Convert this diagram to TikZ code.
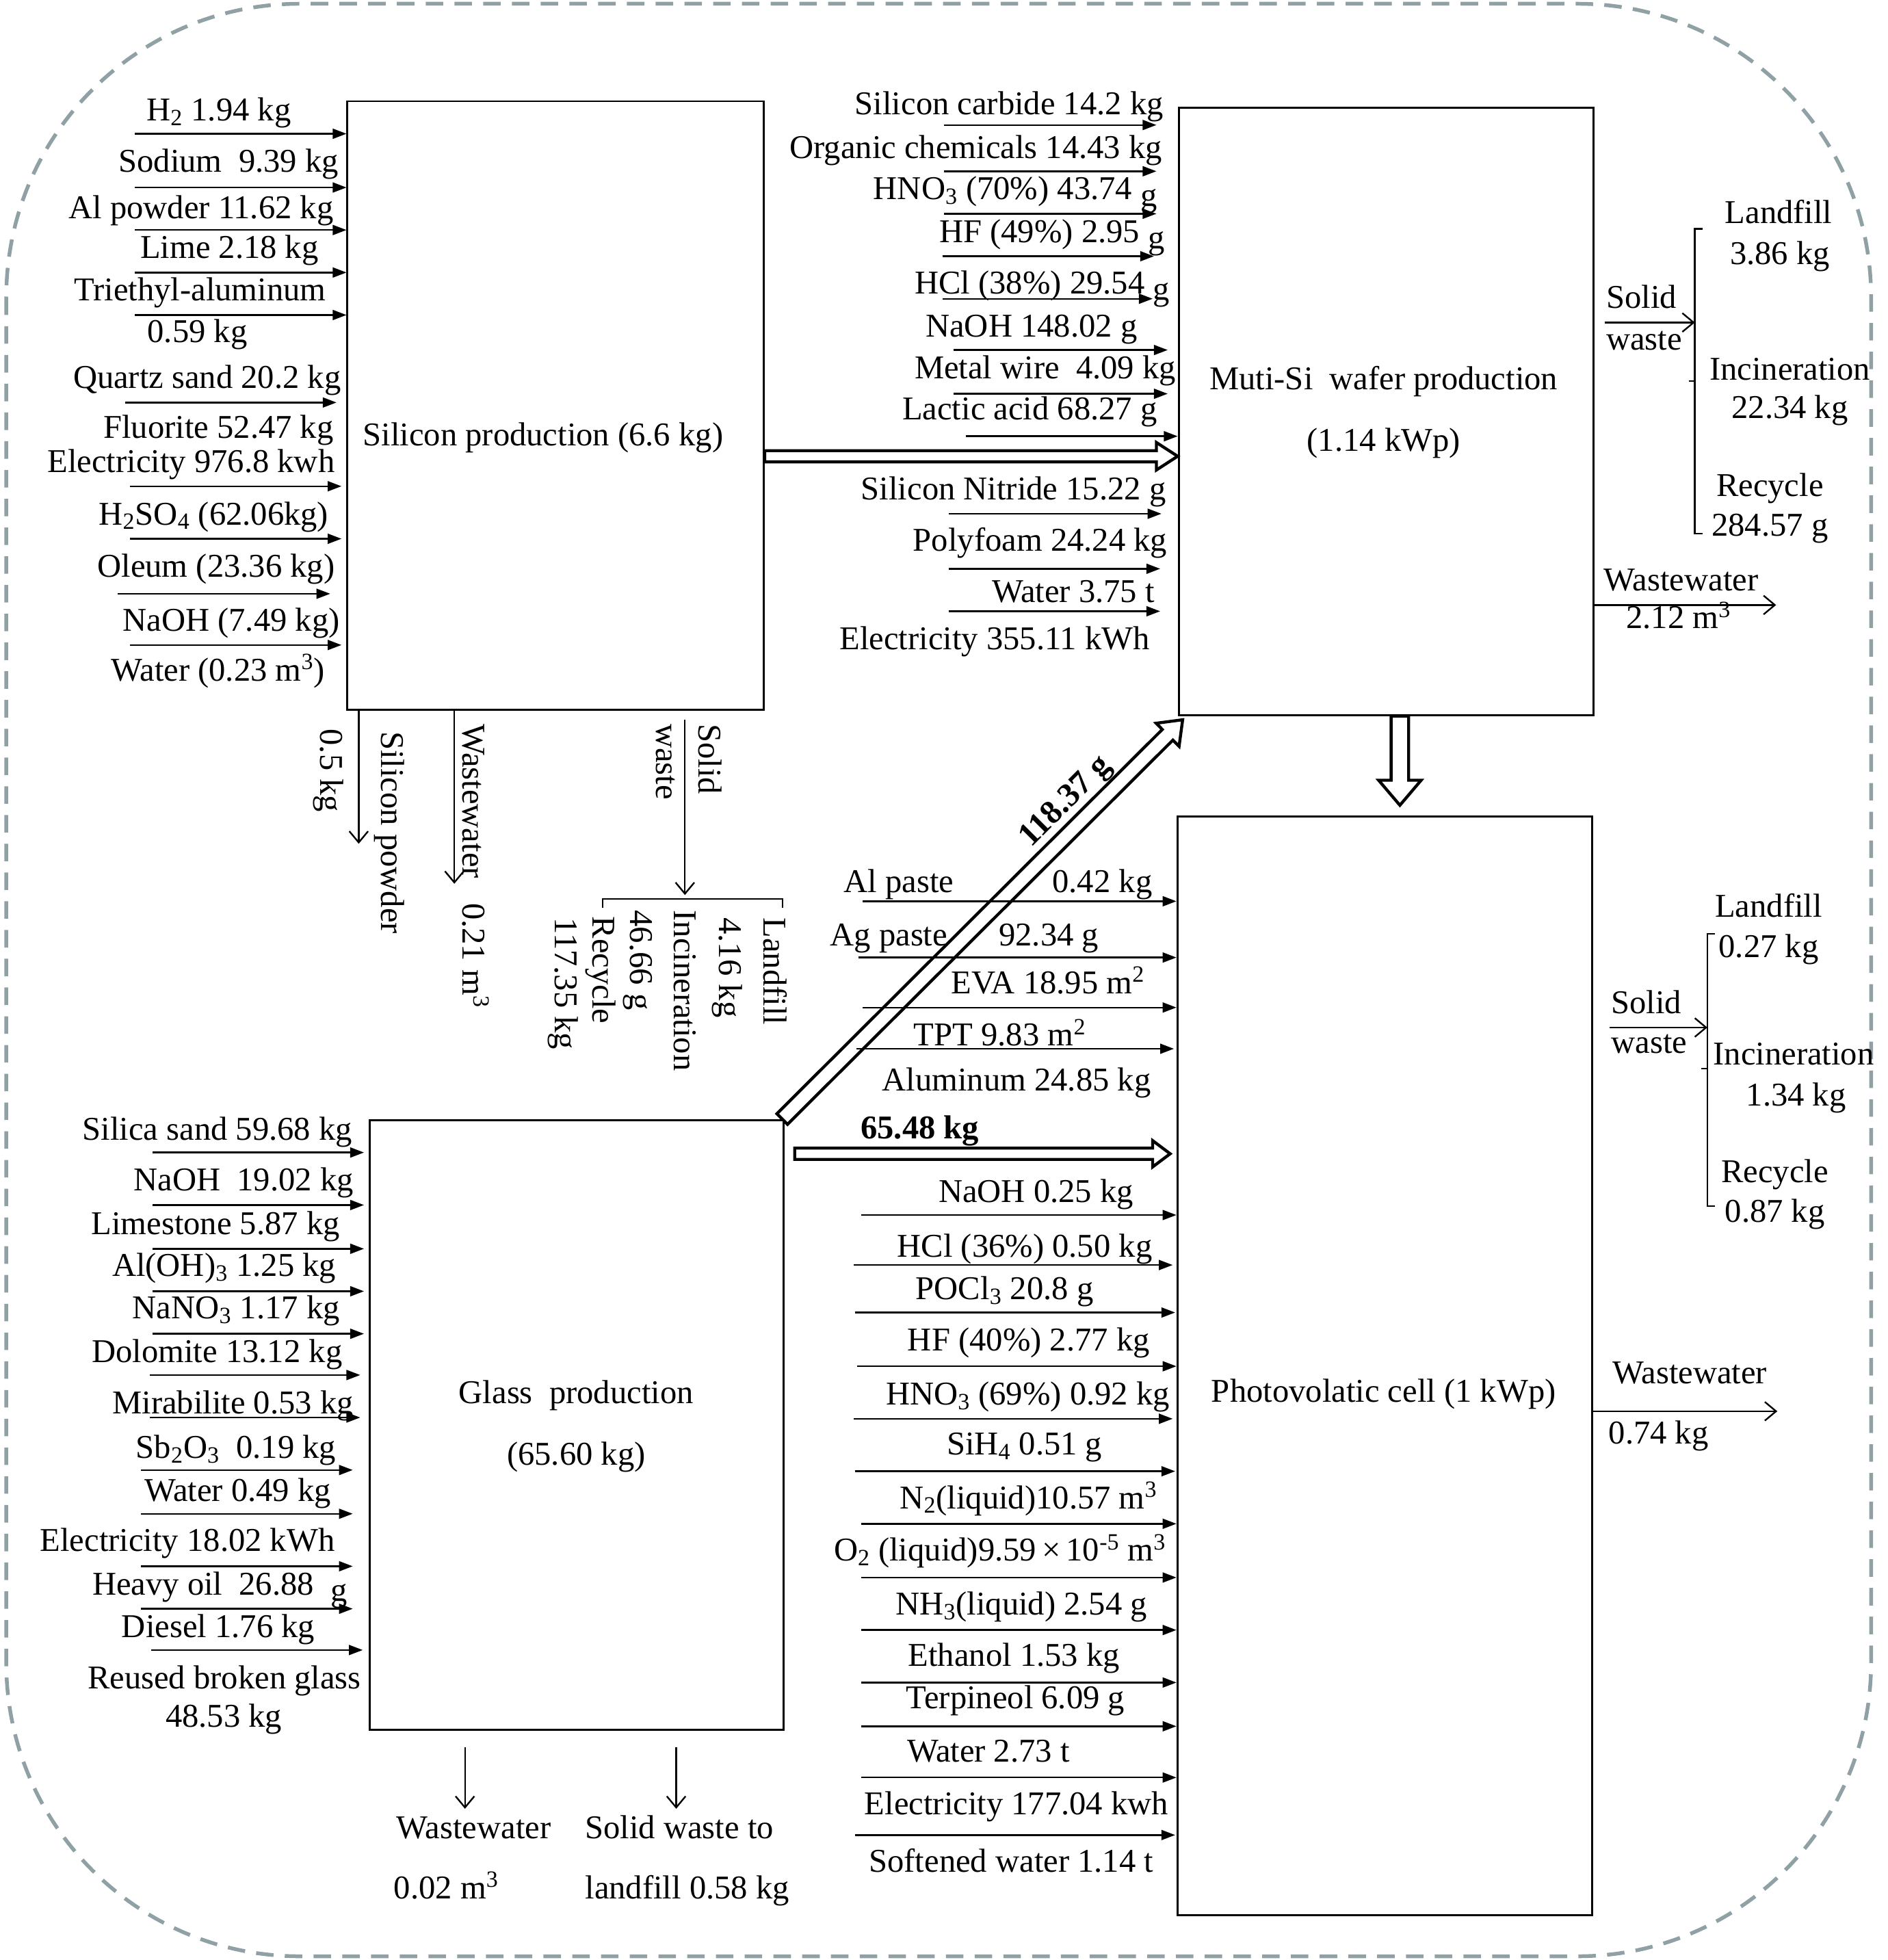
\documentclass[tikz,border=0pt]{standalone}
\usepackage{fontspec}
\setmainfont{Liberation Serif}
\usetikzlibrary{arrows.meta,calc}
\definecolor{bordergray}{RGB}{143,161,165}
\newcommand\fs{\fontsize{26.6pt}{32pt}\selectfont}
\newcommand\lowg{\raisebox{-5pt}{g}}
\newcommand\hollowarrow[5]{%
  \coordinate (haA) at (#1);
  \coordinate (haB) at (#2);
  \coordinate (haH) at ($(haB)!#5pt!(haA)$);
  \draw[hollowline] ($(haA)!#3pt!90:(haB)$) -- ($(haH)!#3pt!90:(haB)$)
    -- ($(haH)!#4pt!90:(haB)$) -- (haB) -- ($(haH)!#4pt!-90:(haB)$)
    -- ($(haH)!#3pt!-90:(haB)$) -- ($(haA)!#3pt!-90:(haB)$) -- cycle;}
\begin{document}
\begin{tikzpicture}[x=1pt,y=-1pt,
  lbl/.style={font=\fs, inner sep=0pt, text height=23.6pt, text depth=6pt},
  box/.style={draw, line width=1.6pt, inner sep=0pt},
  inarr/.style={-{Triangle[length=11pt,width=8pt]}, line width=1.3pt},
  outarr/.style={-{Straight Barb[length=9pt,width=15pt]}, line width=1.3pt},
  brk/.style={line width=1.3pt},
  hollowline/.style={line width=2.4pt, line join=miter},
  border/.style={draw=bordergray, line width=3pt, dash pattern=on 14pt off 9pt, rounded corners=235pt}]
\useasboundingbox (0,0) rectangle (1510,1568);
\draw[border] (5,3) rectangle (1497,1565);

% ---------- process boxes
\node[box, minimum width=333pt, minimum height=487pt] (sil) at (444.5,324.5) {};
\node[box, minimum width=332pt, minimum height=486pt] (waf) at (1109,329) {};
\node[box, minimum width=332pt, minimum height=879pt] (pv) at (1108,1092.5) {};
\node[box, minimum width=331pt, minimum height=488pt] (gl) at (461.5,1140) {};

\node[lbl] (siltxt) at (434.5,348) {Silicon production (6.6 kg)};
\node[lbl] (waft1) at (1107,303) {Muti-Si~ wafer production};
\node[lbl] (waft2) at (1107,352) {(1.14 kWp)};
\node[lbl] (glt1) at (461,1114) {Glass~ production};
\node[lbl] (glt2) at (461,1163) {(65.60 kg)};
\node[lbl] (pvt) at (1107,1113) {Photovolatic cell (1 kWp)};

% ---------- silicon inputs
\foreach \i/\px/\py/\s in {1/108/107/0, 2/108/150/0, 3/108/184/0, 4/108/218/0, 5/108/252/0,
  6/100/322/8, 7/104/389/4, 8/104/431/4, 9/94/475/13, 10/104/516/4}{
  \coordinate (si\i) at (\px,\py);
  \draw[inarr, shorten >=\s pt] (si\i) -- (sil.west |- si\i);
}
\foreach \px/\py/\txt [count=\i] in {
  233/88/{H\textsubscript{2} 1.94 kg},
  271/129/{Sodium~ 9.39 kg},
  267/166/{Al powder 11.62 kg},
  255/198/{Lime 2.18 kg},
  261/232/{Triethyl-aluminum},
  198/265/{0.59 kg},
  273/302/{Quartz sand 20.2 kg},
  267/342/{Fluorite 52.47 kg},
  268/369/{Electricity 976.8 kwh},
  263/411/{H\textsubscript{2}SO\textsubscript{4} (62.06kg)},
  268/453/{Oleum (23.36 kg)},
  272/496/{NaOH (7.49 kg)},
  260/536/{Water (0.23 m\textsuperscript{3})}}
  \node[lbl, anchor=east] (sl\i) at (\px,\py) {\txt};

% ---------- silicon outputs
\coordinate (sp) at (287,675);
\coordinate (sww) at (363.5,707);
\coordinate (ssw) at (548,716);
\draw[outarr] (sil.south -| sp) -- (sp);
\draw[outarr] (sil.south -| sww) -- (sww);
\draw[outarr, shorten <=7pt] (sil.south -| ssw) -- (ssw);
\draw[brk] (482,726) -- (482,719) -- (626,719) -- (626,726);
\foreach \px/\py/\txt [count=\i] in {
  265/583/{0.5 kg},
  314/585/{Silicon powder},
  379/579/{Wastewater~~ 0.21 m\textsuperscript{3}},
  568/579/{Solid},
  534/579/{waste},
  620/734/{Landfill},
  584/734/{4.16 kg},
  548/728/{Incineration},
  513/728/{46.66 g},
  483/733/{Recycle},
  453/734/{117.35 kg}}
  \node[lbl, rotate=-90, anchor=west] (so\i) at (\px,\py) {\txt};

% ---------- wafer inputs
\foreach \i/\px/\py/\s in {1/755/100/17, 2/755/137/17, 3/755/171/17, 4/754/205/19, 5/754/239/20,
  6/763/280/8, 7/763/315/8, 8/773/349/0, 9/759/411/13, 10/759/455/14, 11/759/489/14}{
  \coordinate (wi\i) at (\px,\py);
  \draw[inarr, shorten >=\s pt] (wi\i) -- (waf.west |- wi\i);
}
\foreach \px/\py/\txt [count=\i] in {
  931/83/{Silicon carbide 14.2 kg},
  930/118/{Organic chemicals 14.43 kg},
  926/151/{HNO\textsubscript{3} (70\%) 43.74 \lowg},
  932/185/{HF (49\%) 2.95 \lowg},
  936/226/{HCl (38\%) 29.54 \lowg},
  910/261/{NaOH 148.02 g},
  941/294/{Metal wire~ 4.09 kg},
  926/327/{Lactic acid 68.27 g},
  933/391/{Silicon Nitride 15.22 g},
  934/432/{Polyfoam 24.24 kg},
  924/473/{Water 3.75 t},
  920/511/{Electricity 355.11 kWh}}
  \node[lbl, anchor=east] (wl\i) at (\px,\py) {\txt};

% ---------- wafer outputs
\coordinate (wsb) at (1356,258);
\coordinate (www) at (1421,484);
\draw[outarr, shorten <=8pt] (waf.east |- wsb) -- (wsb);
\draw[brk] (1362,183) -- (1356,183) -- (1356,427) -- (1362,427);
\draw[brk] (1351,305) -- (1356,305);
\draw[outarr] (waf.east |- www) -- (www);
\node[lbl, anchor=west] (wo1) at (1285,238) {Solid};
\node[lbl, anchor=west] (wo2) at (1285,271) {waste};
\node[lbl] (wo3) at (1423,170) {Landfill};
\node[lbl] (wo4) at (1424,203) {3.86 kg};
\node[lbl] (wo5) at (1432,295) {Incineration};
\node[lbl] (wo6) at (1432,326) {22.34 kg};
\node[lbl] (wo7) at (1416,388) {Recycle};
\node[lbl] (wo8) at (1416,420) {284.57 g};
\node[lbl] (wo9) at (1345,464) {Wastewater};
\node[lbl] (wo10) at (1343,494) {2.12 m\textsuperscript{3}};

% ---------- PV inputs
\foreach \i/\px/\py/\s in {1/690/721/0, 2/687/766/0, 3/690/806/0, 4/685/839/2,
  5/689/972/0, 6/683/1012/3, 7/684/1050/1, 8/686/1093/0, 9/683/1135/3, 10/684/1177/1,
  11/689/1219/0, 12/689/1262/0, 13/689/1304/0, 14/689/1346/0, 15/689/1381/0,
  16/689/1422/0, 17/684/1468/1}{
  \coordinate (pi\i) at (\px,\py);
  \draw[inarr, shorten >=\s pt] (pi\i) -- (pv.west |- pi\i);
}
\node[lbl, anchor=west] (pa1) at (675,705) {Al paste};
\node[lbl, anchor=east] (pa2) at (922,705) {0.42 kg};
\node[lbl, anchor=west] (pa3) at (664,748) {Ag paste};
\node[lbl, anchor=west] (pa4) at (799,748) {92.34 g};
\foreach \px/\py/\txt [count=\i] in {
  916/786/{EVA 18.95 m\textsuperscript{2}},
  869/828/{TPT 9.83 m\textsuperscript{2}},
  921/864/{Aluminum 24.85 kg},
  907/953/{NaOH 0.25 kg},
  922/997/{HCl (36\%) 0.50 kg},
  875/1031/{POCl\textsubscript{3} 20.8 g},
  920/1072/{HF (40\%) 2.77 kg},
  936/1115/{HNO\textsubscript{3} (69\%) 0.92 kg},
  882/1155/{SiH\textsubscript{4} 0.51 g},
  926/1198/{N\textsubscript{2}(liquid)10.57 m\textsuperscript{3}},
  933/1240/{O\textsubscript{2} (liquid)9.59\,×\,10\textsuperscript{-5} m\textsuperscript{3}},
  918/1283/{NH\textsubscript{3}(liquid) 2.54 g},
  896/1324/{Ethanol 1.53 kg},
  900/1358/{Terpineol 6.09 g},
  856/1401/{Water 2.73 t},
  935/1443/{Electricity 177.04 kwh},
  923/1489/{Softened water 1.14 t}}
  \node[lbl, anchor=east] (pl\i) at (\px,\py) {\txt};

% ---------- PV outputs
\coordinate (psb) at (1366,822);
\coordinate (pww) at (1422,1129);
\draw[outarr, shorten <=13pt] (pv.east |- psb) -- (psb);
\draw[brk] (1372,747) -- (1366,747) -- (1366,965) -- (1372,965);
\draw[brk] (1361,855) -- (1366,855);
\draw[outarr] (pv.east |- pww) -- (pww);
\node[lbl, anchor=west] (po1) at (1289,802) {Solid};
\node[lbl, anchor=west] (po2) at (1289,834) {waste};
\node[lbl] (po3) at (1415,725) {Landfill};
\node[lbl] (po4) at (1415,757) {0.27 kg};
\node[lbl] (po5) at (1435,843) {Incineration};
\node[lbl] (po6) at (1437,876) {1.34 kg};
\node[lbl] (po7) at (1420,937) {Recycle};
\node[lbl] (po8) at (1420,969) {0.87 kg};
\node[lbl] (po9) at (1352,1098) {Wastewater};
\node[lbl] (po10) at (1327,1146) {0.74 kg};

% ---------- glass inputs
\foreach \i/\px/\py/\s in {1/122/922/4, 2/122/964/4, 3/122/999/4, 4/122/1033/4, 5/122/1067/4,
  6/120/1100/7, 7/120/1134/7, 8/113/1176/13, 9/113/1211/13, 10/113/1253/13, 11/113/1287/13,
  12/121/1320/5}{
  \coordinate (gi\i) at (\px,\py);
  \draw[inarr, shorten >=\s pt] (gi\i) -- (gl.west |- gi\i);
}
\foreach \px/\py/\txt [count=\i] in {
  282/903/{Silica sand 59.68 kg},
  283/944/{NaOH~ 19.02 kg},
  272/979/{Limestone 5.87 kg},
  269/1012/{Al(OH)\textsubscript{3} 1.25 kg},
  272/1046/{NaNO\textsubscript{3} 1.17 kg},
  274/1081/{Dolomite 13.12 kg},
  283/1122/{Mirabilite 0.53 kg},
  269/1158/{Sb\textsubscript{2}O\textsubscript{3}~ 0.19 kg},
  265/1192/{Water 0.49 kg},
  268/1232/{Electricity 18.02 kWh},
  278/1267/{Heavy oil~ 26.88~ \lowg},
  252/1301/{Diesel 1.76 kg},
  289/1342/{Reused broken glass}}
  \node[lbl, anchor=east] (gla\i) at (\px,\py) {\txt};
\node[lbl] (gla14) at (179,1373) {48.53 kg};

% ---------- glass outputs
\coordinate (gw) at (372,1447);
\coordinate (gs) at (541,1447);
\draw[outarr, shorten <=13pt] (gl.south -| gw) -- (gw);
\draw[outarr, shorten <=13pt] (gl.south -| gs) -- (gs);
\node[lbl] (go1) at (379,1462) {Wastewater};
\node[lbl, anchor=west] (go2) at (315,1510) {0.02 m\textsuperscript{3}};
\node[lbl, anchor=west] (go3) at (468,1462) {Solid waste to};
\node[lbl, anchor=west] (go4) at (468,1510) {landfill 0.58 kg};

% ---------- main flows (hollow arrows)
\hollowarrow{[yshift=-40.5pt]sil.east}{[yshift=-36pt]waf.west}{4.5}{11}{17}
\hollowarrow{[xshift=11pt]waf.south}{[xshift=12pt,yshift=8pt]pv.north}{7}{17}{20}
\hollowarrow{[xshift=-2pt]gl.north east}{[xshift=4pt,yshift=-3pt]waf.south west}{6}{13}{17}
\hollowarrow{[xshift=8pt,yshift=217pt]gl.east}{[xshift=-5pt,yshift=169.5pt]pv.west}{4.5}{10.5}{14}
\node[lbl, font=\fs\bfseries] (m6548) at (736,902) {65.48 kg};
\node[lbl, font=\fs\bfseries, rotate=45] (m11837) at (851,640) {118.37 g};
\end{tikzpicture}
\end{document}
